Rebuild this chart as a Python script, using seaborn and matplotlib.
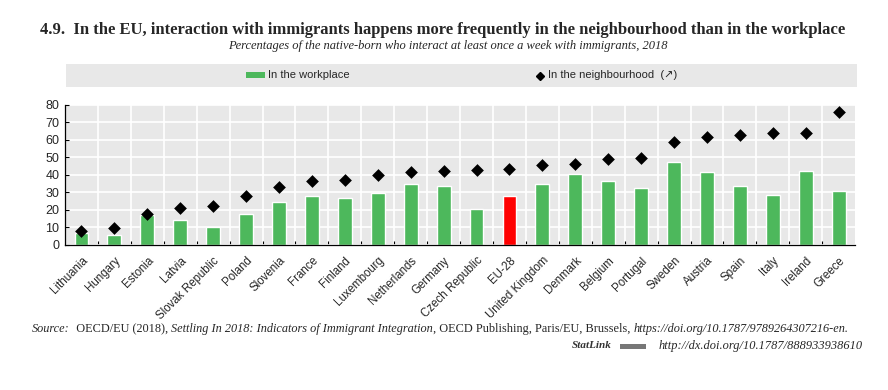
import matplotlib
matplotlib.use("Agg")
import matplotlib.pyplot as plt
from matplotlib.patches import Rectangle
from matplotlib.lines import Line2D
import seaborn as sns
import pandas as pd
import numpy as np

countries = ["Lithuania", "Hungary", "Estonia", "Latvia", "Slovak Republic", "Poland",
             "Slovenia", "France", "Finland", "Luxembourg", "Netherlands", "Germany",
             "Czech Republic", "EU-28", "United Kingdom", "Denmark", "Belgium", "Portugal",
             "Sweden", "Austria", "Spain", "Italy", "Ireland", "Greece"]
workplace = [7.0, 5.5, 17.0, 14.5, 10.0, 17.8, 24.3, 28.0, 26.8, 29.4, 34.8, 33.4,
             20.7, 28.0, 34.6, 40.8, 36.3, 32.8, 47.6, 41.8, 33.6, 28.3, 42.0, 31.0]
neighbourhood = [7.8, 9.8, 17.6, 21.0, 22.0, 28.2, 32.9, 36.3, 37.0, 39.9, 41.8, 42.2,
                 42.8, 43.4, 45.5, 46.1, 48.9, 49.9, 59.0, 61.5, 62.7, 64.0, 64.2, 75.8]
y_ticks = [0, 10, 20, 30, 40, 50, 60, 70, 80]

GREEN = "#4DB85C"
RED = "#FF0000"
BG = "#E8E8E8"
SERIF = ["Liberation Serif", "DejaVu Serif"]

df = pd.DataFrame({"country": countries, "workplace": workplace,
                   "neighbourhood": neighbourhood})
palette = {c: (RED if c == "EU-28" else GREEN) for c in countries}

sns.set_theme(style="white")
plt.rcParams["font.family"] = ["Liberation Sans", "DejaVu Sans"]

fig = plt.figure(figsize=(8.88, 3.9), dpi=100)
ax = fig.add_axes([0.0732, 0.372, 0.8898, 0.359])
ax.set_facecolor(BG)

sns.barplot(data=df, x="country", y="workplace", hue="country", palette=palette,
            order=countries, width=0.42, legend=False, ax=ax, saturation=1)
sns.stripplot(data=df, x="country", y="neighbourhood", order=countries, jitter=False,
              marker="D", color="black", size=6.5, ax=ax, zorder=5)

n = len(countries)
ax.set_xlim(-0.5, n - 0.5)
ax.set_ylim(0, 80)
ax.set_yticks(y_ticks)
ax.set_xticks(range(n))
ax.set_xticklabels(countries, rotation=45, ha="right", rotation_mode="anchor",
                   fontsize=8.3)
ax.set_xticks(np.arange(0.5, n - 1, 1.0), minor=True)
ax.tick_params(axis="x", which="major", length=0, pad=7)
ax.tick_params(axis="x", which="minor", direction="in", length=3, width=0.8,
               color="black", bottom=True)
ax.tick_params(axis="y", which="major", direction="in", length=3, width=0.8,
               color="black", labelsize=9, pad=4, left=True)
ax.grid(True, axis="y", color="white", linewidth=1.2)
ax.grid(True, axis="x", which="minor", color="white", linewidth=1.2)
ax.set_axisbelow(True)
for b in ax.patches:
    b.set_zorder(3)
ax.set_xlabel("")
ax.set_ylabel("")
for s in ["top", "right"]:
    ax.spines[s].set_visible(False)
for s in ["left", "bottom"]:
    ax.spines[s].set_color("black")
    ax.spines[s].set_linewidth(0.9)
    ax.spines[s].set_zorder(6)

# legend band
W, H = 888.0, 390.0
fig.patches.append(Rectangle((66 / W, 1 - 87 / H), (857 - 66) / W, 23 / H,
                             transform=fig.transFigure, facecolor=BG, edgecolor="none",
                             zorder=0))
fig.patches.append(Rectangle((246 / W, 1 - 78 / H), 19 / W, 6 / H,
                             transform=fig.transFigure, facecolor=GREEN,
                             edgecolor="none", zorder=1))
fig.text(267.5 / W, 1 - 75.5 / H, "In the workplace", fontsize=8, va="center",
         ha="left")
fig.lines.append(Line2D([540 / W], [1 - 75.5 / H], marker="D", color="black",
                        markersize=4, transform=fig.transFigure))
fig.text(547.5 / W, 1 - 75.5 / H, "In the neighbourhood  (\u2197)", fontsize=8,
         va="center", ha="left")

# titles
fig.text(443 / W, 1 - 30 / H,
         "4.9.  In the EU, interaction with immigrants happens more frequently in the neighbourhood than in the workplace",
         fontsize=12, fontweight="bold", ha="center", va="center", family=SERIF)
fig.text(448 / W, 1 - 46.5 / H,
         "Percentages of the native-born who interact at least once a week with immigrants, 2018",
         fontsize=9, style="italic", ha="center", va="center", family=SERIF)

# source line built from pieces
renderer = fig.canvas.get_renderer()
pieces = [("Source:", "italic"), ("  OECD/EU (2018), ", "normal"),
          ("Settling In 2018: Indicators of Immigrant Integration", "italic"),
          (", OECD Publishing, Paris/EU, Brussels, ", "normal"),
          ("https://doi.org/10.1787/9789264307216-en.", "italic")]
x = 32.0
for txt, st in pieces:
    t = fig.text(x / W, 1 - 329 / H, txt, fontsize=8.8, ha="left", va="center",
                 style=st, family=SERIF)
    bb = t.get_window_extent(renderer=renderer)
    x += bb.width
fig.text(863 / W, 1 - 346 / H, "http://dx.doi.org/10.1787/888933938610",
         fontsize=8.9, ha="right", va="center", style="italic", family=SERIF)
fig.text(612 / W, 1 - 346 / H, "StatLink", fontsize=8, ha="right", va="center",
         style="italic", fontweight="bold", family=SERIF, color="#333333")
fig.patches.append(Rectangle((620 / W, 1 - 348.5 / H), 26 / W, 5 / H,
                             transform=fig.transFigure, facecolor="#777777",
                             edgecolor="none"))

fig.savefig("out.png", dpi=100, facecolor="white")
